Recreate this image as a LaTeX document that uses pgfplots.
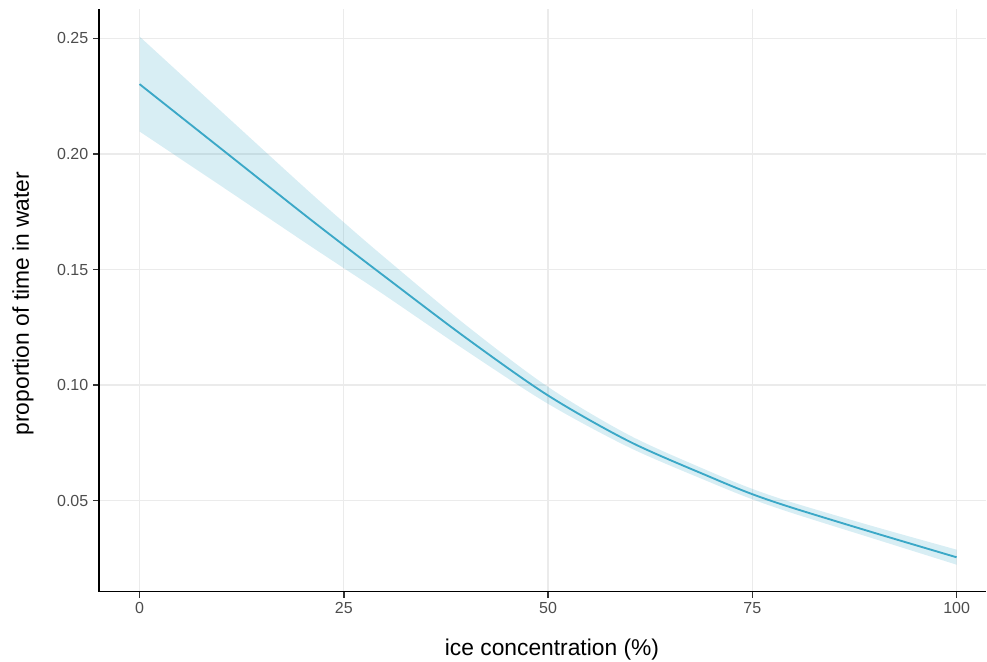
\documentclass[border=0pt]{standalone}
\usepackage{fontspec}
\setmainfont{Liberation Sans}
\usepackage{pgfplots}
\usepackage{pgfplotstable}
\usepgfplotslibrary{fillbetween}
\pgfplotsset{compat=1.18}

\definecolor{fitline}{RGB}{59,168,199}
\definecolor{gridgrey}{RGB}{235,235,235}
\definecolor{ticklab}{RGB}{77,77,77}
\definecolor{tickgrey}{RGB}{51,51,51}

% fitted proportion with its confidence band
\pgfplotstableread{
x    fit     lower   upper
0    0.2302  0.2097  0.2508
10   0.2022  0.1861  0.2184
20   0.1742  0.1623  0.1861
25   0.1605  0.1506  0.1704
30   0.1470  0.1389  0.1552
40   0.1203  0.1148  0.1258
50   0.0955  0.0919  0.0992
60   0.0755  0.0729  0.0782
70   0.0600  0.0577  0.0623
75   0.0528  0.0506  0.0551
80   0.0468  0.0445  0.0491
90   0.0360  0.0334  0.0387
100  0.0255  0.0223  0.0288
}\fittable

\begin{document}
\begin{tikzpicture}
\begin{axis}[
  at={(0pt,0pt)}, anchor=south west,
  scale only axis,
  width=665.25pt, height=436.875pt,
  xmin=-4.96, xmax=103.6,
  ymin=0.0107, ymax=0.2627,
  axis x line=bottom, axis y line=left,
  axis line style={-, black, line width=1.1pt},
  xtick={0,25,50,75,100},
  ytick={0.05,0.10,0.15,0.20,0.25},
  minor tick num=0,
  tick align=outside,
  major tick length=4.5pt,
  tick style={tickgrey, line width=1.1pt},
  grid=major,
  major grid style={gridgrey, line width=0.9pt},
  /pgf/number format/assume math mode=true,
  tick label style={font=\fontsize{12}{14}\selectfont, text=ticklab},
  yticklabel style={/pgf/number format/.cd, fixed, fixed zerofill, precision=2},
  xticklabel style={/pgf/number format/.cd, fixed, precision=0},
  scaled y ticks=false,
  clip=false,
]
\addplot[name path=up, draw=none, smooth, forget plot] table[x=x, y=upper] {\fittable};
\addplot[name path=lo, draw=none, smooth, forget plot] table[x=x, y=lower] {\fittable};
\addplot[fill=fitline, fill opacity=0.2, draw=none] fill between[of=up and lo];
\addplot[fitline, line width=1.4pt, smooth] table[x=x, y=fit] {\fittable};
\end{axis}
\node[anchor=base, font=\fontsize{17.1}{20}\selectfont] at (339.75pt,-48pt) {ice concentration (\%)};
\node[anchor=base, rotate=90, font=\fontsize{17.1}{20}\selectfont] at (-52.5pt,216pt) {proportion of time in water};
\pgfresetboundingbox
\useasboundingbox (-74.25pt,-52.125pt) rectangle (666pt,443.625pt);
\end{tikzpicture}
\end{document}
